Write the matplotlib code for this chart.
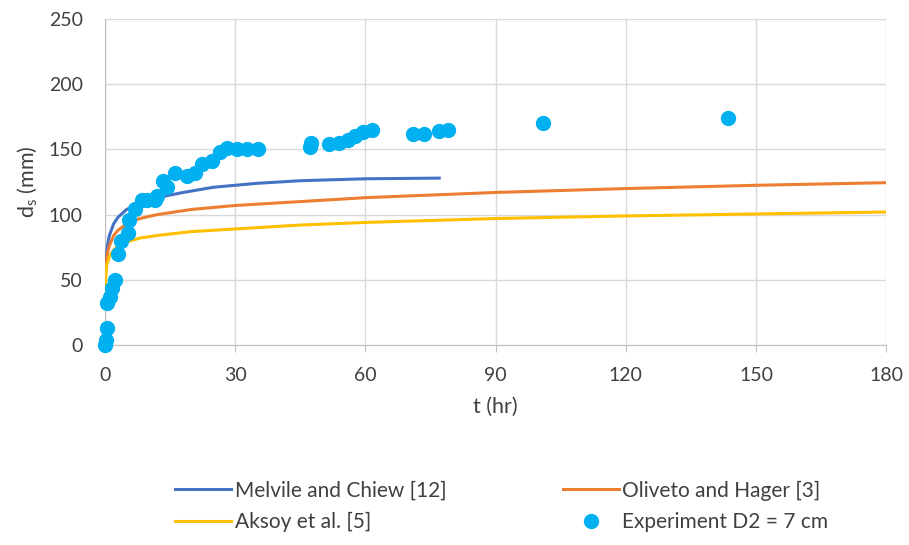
import matplotlib.pyplot as plt

plt.rcParams['font.family'] = ['Lato', 'DejaVu Sans']

# experiment D2 = 7 cm
t_exp = [0, 0.3, 0.4, 0.5, 1.1, 1.5, 2.3, 3.0, 3.8, 5.3, 5.5, 7.0, 8.5, 9.6, 11.5, 11.9,
         13.4, 14.2, 16.1, 18.8, 20.7, 22.3, 24.6, 26.5, 28.0, 30.3, 32.7, 35.3,
         47.2, 47.5, 51.5, 53.8, 56.0, 57.5, 59.5, 61.5, 71.0, 73.5, 77.0, 79.0, 101.0, 143.5]
d_exp = [0, 4, 13, 32, 37, 44, 50, 70, 80, 86, 96, 104, 111, 111, 111, 114,
         126, 121, 132, 130, 132, 139, 141, 148, 151, 150, 150, 150,
         152, 155, 154, 155, 157, 160, 163, 165, 162, 162, 164, 165, 170, 174]

t_mel = [0.05, 0.3, 0.6, 1, 2, 3, 5, 8, 12, 18, 25, 35, 45, 60, 77]
d_mel = [52, 68, 77, 84, 93, 98, 104, 109, 113, 117, 121, 124, 126, 127.5, 128]

t_oli = [0.05, 0.5, 1, 2, 3, 5, 8, 12, 20, 30, 45, 60, 90, 120, 150, 180]
d_oli = [52, 70, 76, 84, 88, 93, 97, 100, 104, 107, 110, 113, 117, 120, 122.5, 124.5]

t_aks = [0.05, 0.3, 1, 2, 3, 5, 8, 12, 20, 30, 45, 60, 90, 120, 150, 180]
d_aks = [40, 60, 68, 73, 76, 79, 82, 84, 87, 89, 92, 94, 97, 99, 100.5, 102]

fig = plt.figure(figsize=(9.09, 5.45), dpi=100)
ax = fig.add_axes([0.1155, 0.367, 0.8595, 0.598])

ax.plot(t_mel, d_mel, color='#4472C4', lw=2.2, label='Melvile and Chiew [12]', zorder=3)
ax.plot(t_oli, d_oli, color='#ED7D31', lw=2.2, label='Oliveto and Hager [3]', zorder=3)
ax.plot(t_aks, d_aks, color='#FFC000', lw=2.2, label='Aksoy et al. [5]', zorder=3)
ax.plot(t_exp, d_exp, 'o', color='#00B0F0', ms=10, label='Experiment D2 = 7 cm',
        zorder=4, clip_on=False)

ax.set_xlim(0, 180)
ax.set_ylim(0, 250)
ax.set_xticks(range(0, 181, 30))
ax.set_yticks(range(0, 251, 50))
ax.grid(True, color='#D9D9D9', lw=1)
ax.set_axisbelow(True)
for s in ['top', 'right']:
    ax.spines[s].set_visible(False)
for s in ['left', 'bottom']:
    ax.spines[s].set_color('#BFBFBF')
ax.tick_params(axis='y', length=0, labelsize=14, labelcolor='#404040', pad=16)
ax.tick_params(axis='x', length=5, color='#BFBFBF', labelsize=14, labelcolor='#404040', pad=11)
ax.set_xlabel('t (hr)', fontsize=15.5, color='#404040', labelpad=9)
ax.set_ylabel(r'd$_\mathregular{s}$ (mm)', fontsize=15.5, color='#404040', labelpad=6)

# rows: Melvile | Oliveto, Aksoy | Experiment
handles, labels = ax.get_legend_handles_labels()
order = [0, 2, 1, 3]
fig.legend([handles[i] for i in order], [labels[i] for i in order],
           loc='center', bbox_to_anchor=(0.552, 0.071), ncol=2, frameon=False,
           fontsize=15, labelcolor='#404040', handlelength=2.7, handletextpad=0.15,
           columnspacing=5.6, labelspacing=0.55)

fig.savefig('out.png', dpi=100)
